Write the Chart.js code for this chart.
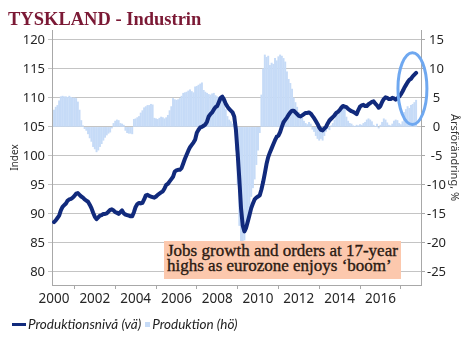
<!DOCTYPE html>
<html>
<head>
<meta charset="utf-8">
<script src="https://cdn.jsdelivr.net/npm/chart.js@4"></script>
<style>
  html, body { margin: 0; padding: 0; background: #fff; }
  #wrap { position: relative; width: 471px; height: 346px; overflow: hidden; }
  #title {
    position: absolute; left: 8px; top: 9px; line-height: 20px;
    font: bold 18.5px "Liberation Serif", serif; color: #7b1935; white-space: nowrap;
  }
  #note {
    position: absolute; left: 164px; top: 241px; width: 237px; height: 38px;
    box-sizing: border-box; padding: 2px 0 0 3px; background: #fcc8ad;
    font: 17px/15px "Liberation Serif", serif; color: #2a1a12; white-space: nowrap;
    -webkit-text-stroke: 0.35px #2a1a12;
  }
  #legend {
    position: absolute; left: 12px; top: 316px; height: 16px;
    display: flex; align-items: center;
    font: italic 13.5px/16px Lato, sans-serif; color: #222; white-space: nowrap;
  }
  #legend .sw { display: inline-block; margin-right: 2px; }
  #legend .item { display: flex; align-items: center; margin-right: 4px; }
</style>
</head>
<body>
<div id="wrap">
  <canvas id="chart" width="471" height="346"></canvas>
  <div id="title">TYSKLAND - Industrin</div>
  <div id="note">Jobs growth and orders at 17-year<br>highs as eurozone enjoys ‘boom’</div>
  <div id="legend"></div>
</div>
<script>
// monthly series, starting January 2000
const startYear = 2000;

// production level, index (left axis)
const lineIndex = [
  88.6, 88.9, 89.3, 89.7, 90.6, 91.2, 91.5, 91.8, 92.3, 92.5, 92.6, 92.8,
  93.1, 93.5, 93.6, 93.3, 93.0, 92.8, 92.5, 92.3, 92.1, 91.6, 91.0, 90.2,
  89.5, 89.1, 89.4, 89.7, 89.8, 90.0, 90.0, 90.1, 90.4, 90.7, 90.8, 90.6,
  90.3, 90.2, 90.0, 90.3, 90.6, 90.1, 89.9, 89.8, 89.7, 89.6, 89.6, 90.3,
  91.2, 91.7, 91.9, 91.8, 91.9, 92.5, 93.2, 93.3, 93.1, 93.0, 92.9, 92.8,
  93.0, 93.3, 93.5, 93.7, 93.9, 94.4, 95.0, 95.2, 95.6, 96.0, 96.4, 97.3,
  97.5, 97.6, 97.6, 97.9, 98.7, 99.5, 100.2, 100.9, 101.5, 101.9, 102.3, 102.8,
  104.0, 104.5, 104.9, 105.0, 105.2, 105.4, 105.9, 106.8, 107.2, 107.5, 108.0, 108.4,
  108.6, 109.3, 110.0, 110.2, 109.7, 109.0, 108.5, 108.1, 107.8, 107.5, 106.8, 104.5,
  100.5, 96.0, 91.0, 88.0, 87.0, 87.6, 88.7, 89.8, 91.0, 91.8, 92.5, 92.8,
  93.0, 93.2, 94.2, 95.5, 97.0, 98.6, 99.8, 100.6, 101.3, 102.0, 102.7, 103.3,
  103.5, 104.1, 105.0, 105.8, 106.2, 106.6, 107.1, 107.5, 107.8, 107.8, 107.5, 107.2,
  106.9, 106.8, 107.0, 107.2, 107.4, 107.4, 107.5, 107.3, 106.9, 106.5, 106.0, 105.5,
  104.9, 104.5, 104.4, 104.7, 105.0, 105.6, 106.1, 106.4, 106.7, 107.0, 107.4, 107.6,
  107.9, 108.3, 108.6, 108.5, 108.4, 108.1, 107.9, 107.7, 107.6, 107.4, 107.2, 107.9,
  108.5, 108.7, 108.8, 108.6, 108.6, 108.9, 109.1, 109.3, 109.4, 109.0, 108.7, 108.3,
  108.6, 109.3, 109.8, 110.1, 110.0, 109.8, 109.8, 110.0, 109.9, 109.7, 109.9, 110.2,
  110.6, 111.1, 111.7, 112.2, 112.7, 113.1, 113.3, 113.7, 114.0, 114.3
];

// production, change on a year earlier in % (right axis)
const barChange = [
  2.9, 3.4, 3.7, 4.5, 5.2, 5.3, 5.2, 5.2, 5.1, 5.3, 5.1, 5.0,
  5.0, 4.9, 4.3, 2.9, 1.1, 0.2, -0.3, -0.6, -1.2, -1.9, -2.5, -3.4,
  -3.8, -4.3, -4.0, -3.4, -2.9, -2.3, -1.8, -1.4, -1.1, -0.9, -0.2, 0.6,
  1.0, 1.2, 1.1, 0.6, 0.5, 0.3, -0.6, -1.0, -1.1, -1.1, -1.2, 1.3,
  1.4, 1.6, 1.8, 2.4, 2.8, 3.3, 3.5, 3.7, 3.7, 3.9, 3.8, 1.5,
  1.4, 1.3, 1.5, 1.7, 1.6, 1.4, 1.6, 2.0, 2.8, 3.5, 4.9, 4.7,
  4.6, 4.7, 4.9, 5.3, 5.8, 5.9, 6.0, 6.2, 6.4, 6.1, 5.9, 6.9,
  7.0, 7.2, 7.4, 7.6, 6.3, 6.0, 5.8, 5.6, 5.5, 5.7, 5.8, 5.4,
  5.2, 5.0, 4.9, 4.6, 3.9, 3.0, 1.8, 1.2, 0.9, 0.5, 0.1, -4.0,
  -10.0, -17.0, -20.0, -20.5, -19.5, -18.0, -15.8, -14.0, -12.0, -10.5, -9.0, -6.5,
  -4.0, -1.0, 5.5, 10.0, 12.4, 12.0, 12.2, 10.6, 11.0, 10.8, 11.8, 11.4,
  12.1, 12.4, 12.2, 11.8, 11.2, 9.5, 8.2, 7.5, 6.5, 5.0, 4.2, 3.4,
  2.5, 2.0, 1.5, 1.0, 0.6, 0.4, 0.8, 0.5, -0.4, -0.8, -1.5, -2.0,
  -2.3, -2.0, -2.3, -1.5, -0.8, -0.3, -0.5, 0.2, 0.6, 1.2, 2.3, 2.6,
  2.8, 3.5, 3.8, 3.2, 1.7, 1.0, 0.6, 0.5, 0.2, 0.1, 0.3, 0.2,
  0.4, 0.3, 0.6, 0.8, 1.2, 1.4, 1.2, 0.9, 0.3, 0.1, 0.5, -0.2,
  0.3, 0.8, 1.4, 1.2, 0.7, 0.3, 0.2, 0.5, 1.0, 1.2, 1.1, 0.6,
  0.4, 0.9, 2.5, 3.0, 3.5, 3.2, 3.7, 3.9, 4.2, 4.6
];

const yearTicks = [2000, 2002, 2004, 2006, 2008, 2010, 2012, 2014, 2016];
const indexTicks = [80, 85, 90, 95, 100, 105, 110, 115, 120];
const changeTicks = [-25, -20, -15, -10, -5, 0, 5, 10, 15];

const seriesNames = ['Produktionsnivå (vä)', 'Produktion (hö)'];
const lineColor = '#112a7c';
const barColor = '#c6dbf7';
const axisColor = '#a8a8a8';
const gridColor = '#c4c4c4';
const labelFont = { family: 'Noto Sans', size: 13.5 };

// ring drawn round the latest readings, in data units
const ring = { year: 2017.57, index: 111.6, halfYears: 0.71, halfIndex: 6.2 };

const monthX = i => startYear + i / 12;

const ringPlugin = {
  id: 'ring',
  afterDatasetsDraw(chart) {
    const { ctx, scales: { x, y } } = chart;
    const cx = x.getPixelForValue(ring.year);
    const cy = y.getPixelForValue(ring.index);
    const rx = x.getPixelForValue(ring.year + ring.halfYears) - cx;
    const ry = cy - y.getPixelForValue(ring.index + ring.halfIndex);
    ctx.save();
    ctx.beginPath();
    ctx.ellipse(cx, cy, rx, ry, 0, 0, Math.PI * 2);
    ctx.strokeStyle = '#6fa8f0';
    ctx.lineWidth = 3;
    ctx.stroke();
    ctx.restore();
  }
};

const setTicks = values => scale => { scale.ticks = values.map(v => ({ value: v })); };

const chart = new Chart(document.getElementById('chart'), {
  type: 'bar',
  data: {
    datasets: [
      {
        type: 'line',
        label: seriesNames[0],
        yAxisID: 'y',
        data: lineIndex.map((v, i) => ({ x: monthX(i), y: v })),
        borderColor: lineColor,
        borderWidth: 4,
        pointRadius: 0,
        borderJoinStyle: 'round',
        borderCapStyle: 'round',
        tension: 0,
        order: 1
      },
      {
        type: 'bar',
        label: seriesNames[1],
        yAxisID: 'y2',
        data: barChange.map((v, i) => ({ x: monthX(i), y: v })),
        backgroundColor: barColor,
        barThickness: 1.3,
        order: 2
      }
    ]
  },
  options: {
    responsive: false,
    animation: false,
    devicePixelRatio: 1,
    layout: { padding: { left: 9, right: 0, top: 30, bottom: 0 } },
    plugins: { legend: { display: false }, tooltip: { enabled: false } },
    scales: {
      x: {
        type: 'linear',
        min: 1999.9,
        max: 2017.99,
        offset: false,
        grid: { drawOnChartArea: false, tickLength: 4, color: axisColor },
        border: { display: true, color: axisColor },
        ticks: {
          font: labelFont, color: '#262626', padding: 2,
          autoSkip: false, maxRotation: 0, callback: v => String(v)
        },
        afterBuildTicks: setTicks(yearTicks),
        afterFit: s => { s.height = 61; }
      },
      y: {
        position: 'left',
        min: 77.75,
        max: 121.7,
        grid: { color: gridColor, tickLength: 4 },
        border: { display: true, color: axisColor },
        ticks: { font: { family: 'Noto Sans', size: 13 }, color: '#262626', padding: 3, callback: v => String(v) },
        title: { display: true, text: 'Index', font: { family: 'Noto Sans', size: 10 }, color: '#333', padding: { top: 0, bottom: 0 } },
        afterBuildTicks: setTicks(indexTicks),
        afterFit: s => { s.width = 43; }
      },
      y2: {
        position: 'right',
        min: -27.25,
        max: 16.7,
        grid: { drawOnChartArea: false, tickLength: 4, color: axisColor },
        border: { display: true, color: axisColor },
        ticks: { font: { family: 'Noto Sans', size: 13 }, color: '#262626', padding: 2, crossAlign: 'center', callback: v => String(v) },
        title: { display: true, text: 'Årsförändring, %', font: { family: 'Noto Sans', size: 11 }, color: '#333', padding: { top: 10, bottom: 0 } },
        afterBuildTicks: setTicks(changeTicks),
        afterFit: s => { s.width = 50; }
      }
    }
  },
  plugins: [ringPlugin]
});

// legend built from the datasets
const legend = document.getElementById('legend');
chart.data.datasets.forEach(ds => {
  const item = document.createElement('span');
  item.className = 'item';
  const sw = document.createElement('span');
  sw.className = 'sw';
  if (ds.type === 'line') {
    sw.style.cssText = `width:14px;height:3px;background:${ds.borderColor};`;
  } else {
    sw.style.cssText = `width:5px;height:5px;background:${ds.backgroundColor};`;
  }
  item.appendChild(sw);
  item.appendChild(document.createTextNode(ds.label));
  legend.appendChild(item);
});
</script>
</body>
</html>
